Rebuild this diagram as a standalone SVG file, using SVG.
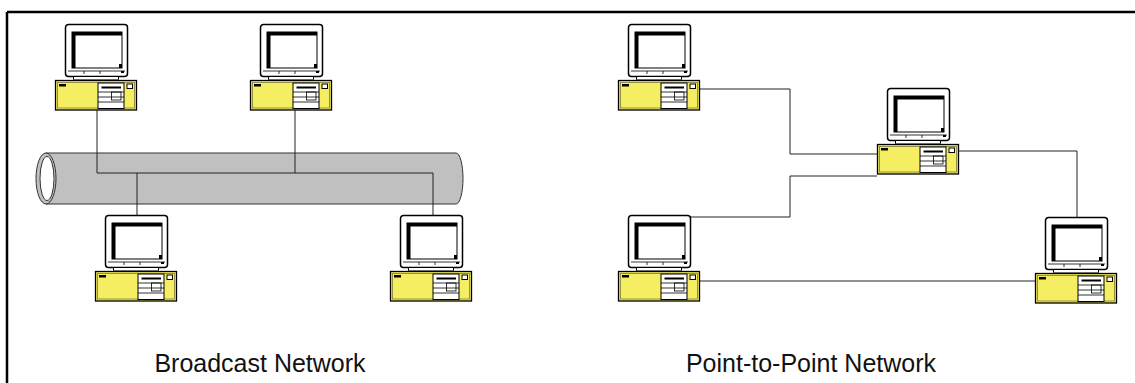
<svg xmlns="http://www.w3.org/2000/svg" width="1135" height="383" viewBox="0 0 1135 383">
  <style>
    .frame { stroke: #000; stroke-width: 2.5; fill: none; }
    .wire { stroke: #222; stroke-width: 1; fill: none; }
    .label { font-family: "Liberation Sans", Arial, sans-serif; font-size: 25px; fill: #111; text-anchor: middle; }
    .bezel { fill: #fff; stroke: #000; stroke-width: 1.5; }
    .screen { fill: #fff; stroke: #000; stroke-width: 1; }
    .case { fill: #f6ee62; stroke: #000; stroke-width: 1.3; }
    .caseInner { fill: none; stroke: #7d7a3a; stroke-width: 0.8; }
    .bay { fill: #fff; stroke: #000; stroke-width: 1; }
    .thin { stroke: #000; stroke-width: 0.8; fill: none; }
  </style>
  <defs>
    <!-- desktop computer: monitor on top of a yellow system unit; origin = case left / monitor top -->
    <g id="pc">
      <rect class="bezel" x="10.5" y="0.5" width="62" height="52" rx="3"/>
      <rect class="screen" x="17" y="8" width="50" height="36"/>
      <path d="M17 8 H67 V11.5 H20.5 V44 H17 Z" fill="#000"/>
      <path d="M64 40 H67 V44 H64 Z" fill="#000"/>
      <line class="thin" x1="13" y1="47" x2="70" y2="47"/>
      <line class="thin" x1="29" y1="47" x2="29" y2="50"/>
      <line class="thin" x1="45" y1="47" x2="45" y2="50"/>
      <rect x="66" y="47" width="3" height="2" fill="#000"/>
      <rect class="bezel" x="18.5" y="52.5" width="45" height="3.5" rx="0.5" style="stroke-width:1"/>
      <rect class="case" x="0.5" y="56.5" width="81" height="29.5"/>
      <rect class="caseInner" x="2.5" y="58.5" width="77" height="25.5"/>
      <rect x="4" y="60" width="7" height="2.5" fill="#000"/>
      <rect class="bay" x="43" y="59" width="26" height="25.5"/>
      <rect x="46.5" y="62.5" width="19.5" height="2" fill="#000"/>
      <line class="thin" x1="43" y1="68" x2="69" y2="68"/>
      <line class="thin" x1="43" y1="73" x2="69" y2="73"/>
      <line class="thin" x1="43" y1="78" x2="69" y2="78"/>
      <rect class="thin" x="56.5" y="68" width="9.5" height="8" fill="#fff"/>
      <rect class="bay" x="72" y="60" width="5.5" height="4.5"/>
    </g>
  </defs>

  <!-- outer frame (top and left edges) -->
  <g id="frame">
    <line class="frame" x1="7" y1="12" x2="1135" y2="12"/>
    <line class="frame" x1="7" y1="12" x2="7" y2="383"/>
  </g>

  <!-- shared bus cable -->
  <g id="bus">
    <path d="M46 153 H456 A7 25.5 0 0 1 456 204 H46 Z" fill="#c0c0c0" stroke="#333" stroke-width="1"/>
    <ellipse cx="46" cy="178.5" rx="10" ry="25.5" fill="#c0c0c0" stroke="#333" stroke-width="1"/>
    <ellipse cx="47" cy="178.5" rx="7" ry="22" fill="#fff" stroke="#333" stroke-width="1"/>
  </g>

  <!-- connectors -->
  <g id="connectors">
    <polyline class="wire" points="97,110 97,173 433,173 433,216"/>
    <polyline class="wire" points="295,110 295,173"/>
    <polyline class="wire" points="137,173 137,215"/>
    <polyline class="wire" points="700,89 790,89 790,154 877,154"/>
    <polyline class="wire" points="690,217 790,217 790,176 877,176"/>
    <polyline class="wire" points="957,151 1077,151 1077,217"/>
    <polyline class="wire" points="700,281 1035,281"/>
  </g>

  <!-- broadcast network hosts -->
  <g id="bc-host-1"><use href="#pc" x="55" y="24"/></g>
  <g id="bc-host-2"><use href="#pc" x="250" y="24"/></g>
  <g id="bc-host-3"><use href="#pc" x="95" y="215"/></g>
  <g id="bc-host-4"><use href="#pc" x="390" y="215"/></g>

  <!-- point-to-point network hosts -->
  <g id="p2p-host-1"><use href="#pc" x="618" y="24"/></g>
  <g id="p2p-host-2"><use href="#pc" x="877" y="88"/></g>
  <g id="p2p-host-3"><use href="#pc" x="618" y="215"/></g>
  <g id="p2p-host-4"><use href="#pc" x="1035" y="217"/></g>

  <!-- captions -->
  <g id="captions">
    <text class="label" x="260" y="372">Broadcast Network</text>
    <text class="label" x="811" y="372">Point-to-Point Network</text>
  </g>
</svg>
